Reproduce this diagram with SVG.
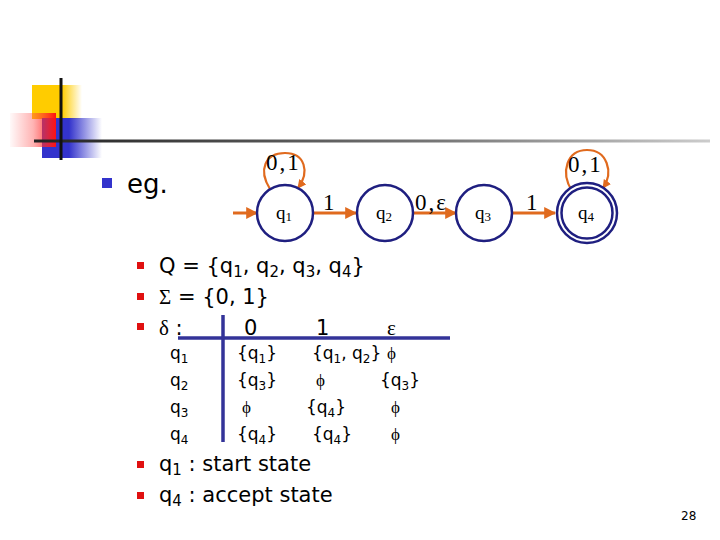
<svg xmlns="http://www.w3.org/2000/svg" width="720" height="540" viewBox="0 0 720 540">
<defs>
<linearGradient id="gy" x1="0" y1="0" x2="1" y2="0"><stop offset="0" stop-color="#FFCC00"/><stop offset="0.6" stop-color="#FFCC00"/><stop offset="1" stop-color="#FFCC00" stop-opacity="0"/></linearGradient>
<linearGradient id="gb" x1="0" y1="0" x2="1" y2="0"><stop offset="0" stop-color="#3333CC"/><stop offset="0.45" stop-color="#3333CC"/><stop offset="1" stop-color="#3333CC" stop-opacity="0"/></linearGradient>
<linearGradient id="gr" x1="0" y1="0" x2="1" y2="0"><stop offset="0" stop-color="#FF4444" stop-opacity="0.03"/><stop offset="0.5" stop-color="#FF4444" stop-opacity="0.4"/><stop offset="1" stop-color="#FF1111"/></linearGradient>
<linearGradient id="gl" x1="0" y1="0" x2="1" y2="0"><stop offset="0" stop-color="#222"/><stop offset="0.6" stop-color="#777"/><stop offset="1" stop-color="#ccc"/></linearGradient>
<marker id="ah" viewBox="0 0 10 10" refX="9" refY="5" markerWidth="4" markerHeight="4" orient="auto"><path d="M0,0 L10,5 L0,10 z" fill="#E06A1E"/></marker>
<style>
.st{fill:#fff;stroke:#1F1F80;stroke-width:2.5}
.ed{fill:none;stroke:#E06A1E;stroke-width:3;marker-end:url(#ah)}
.lp{fill:none;stroke:#E06A1E;stroke-width:2.2;marker-end:url(#ah)}
.sl{font-family:"Liberation Serif",serif;font-size:19px;fill:#000}
.el{font-family:"Liberation Serif",serif;font-size:23px;fill:#000;letter-spacing:2px}
.tx{font-family:"DejaVu Sans",sans-serif;font-size:21px;fill:#000}
.tb{font-family:"DejaVu Sans",sans-serif;font-size:17px;fill:#000}
.sy{font-family:"Liberation Serif",serif}
.rb{fill:#E01010}
</style>
</defs>
<rect width="720" height="540" fill="#fff"/>
<g id="decor">
<rect x="32" y="85" width="50" height="34" fill="url(#gy)"/>
<rect x="42" y="118" width="60" height="40" fill="url(#gb)"/>
<rect x="10" y="113" width="46" height="34" fill="url(#gr)"/>
<rect x="34" y="139.5" width="676" height="3" fill="url(#gl)"/>
<line x1="61" y1="78" x2="61" y2="160" stroke="#111" stroke-width="3"/>
</g>
<g id="eg"><rect x="102" y="178" width="10" height="10" fill="#3333CC"/><text x="127" y="193" font-family="DejaVu Sans,sans-serif" font-size="26px">eg.</text></g>
<g id="connectors">
<line class="ed" x1="233" y1="213" x2="257" y2="213"/>
<line class="ed" x1="313" y1="213" x2="356" y2="213"/>
<line class="ed" x1="413" y1="213" x2="456" y2="213"/>
<line class="ed" x1="512" y1="213" x2="555" y2="213"/>
<path class="lp" d="M270,189 C258,170 265,153 285,153 C305,153 310,172 298,188"/>
<path class="lp" d="M572,191 C560,172 567,150 587,150 C607,150 614,172 603,188"/>
<text class="el" x="323" y="210">1</text>
<text class="el" x="415" y="210">0,<tspan class="sy">ε</tspan></text>
<text class="el" x="526" y="210">1</text>
<text class="el" x="266" y="170">0,1</text>
<text class="el" x="568" y="172">0,1</text>
</g>
<g id="q1"><circle class="st" cx="285" cy="213" r="28"/><text class="sl" x="276" y="219">q<tspan font-size="13px" dy="2">1</tspan></text></g>
<g id="q2"><circle class="st" cx="385" cy="213" r="28"/><text class="sl" x="376" y="219">q<tspan font-size="13px" dy="2">2</tspan></text></g>
<g id="q3"><circle class="st" cx="484" cy="213" r="28"/><text class="sl" x="475" y="219">q<tspan font-size="13px" dy="2">3</tspan></text></g>
<g id="q4"><circle class="st" cx="587" cy="213" r="30"/><circle class="st" cx="587" cy="213" r="25.5" fill="none"/><text class="sl" x="578" y="219">q<tspan font-size="13px" dy="2">4</tspan></text></g>
<g id="defs-text">
<rect class="rb" x="137" y="262" width="7" height="7"/>
<text class="tx" x="159" y="273">Q = {q<tspan font-size="15px" dy="4">1</tspan><tspan dy="-4">, q</tspan><tspan font-size="15px" dy="4">2</tspan><tspan dy="-4">, q</tspan><tspan font-size="15px" dy="4">3</tspan><tspan dy="-4">, q</tspan><tspan font-size="15px" dy="4">4</tspan><tspan dy="-4">}</tspan></text>
<rect class="rb" x="137" y="293" width="7" height="7"/>
<text class="tx" x="159" y="304"><tspan class="sy">Σ</tspan> = {0, 1}</text>
<rect class="rb" x="137" y="323" width="7" height="7"/>
<text class="tx" x="159" y="335"><tspan class="sy">δ</tspan> :</text>
<text class="tx" x="244" y="335">0</text>
<text class="tx" x="316" y="335">1</text>
<text class="tx sy" x="387" y="335">ε</text>
</g>
<g id="table">
<line x1="178" y1="338" x2="450" y2="338" stroke="#333399" stroke-width="3.5"/>
<line x1="223" y1="315" x2="223" y2="442" stroke="#333399" stroke-width="3.5"/>
<g class="tb">
<text x="170" y="359">q<tspan font-size="12px" dy="4">1</tspan></text>
<text x="170" y="386">q<tspan font-size="12px" dy="4">2</tspan></text>
<text x="170" y="413">q<tspan font-size="12px" dy="4">3</tspan></text>
<text x="170" y="440">q<tspan font-size="12px" dy="4">4</tspan></text>
<text x="237" y="359">{q<tspan font-size="12px" dy="4">1</tspan><tspan dy="-4">}</tspan></text>
<text x="312" y="359">{q<tspan font-size="12px" dy="4">1</tspan><tspan dy="-4">, q</tspan><tspan font-size="12px" dy="4">2</tspan><tspan dy="-4">}</tspan></text>
<text x="387" y="359" class="sy">ϕ</text>
<text x="237" y="386">{q<tspan font-size="12px" dy="4">3</tspan><tspan dy="-4">}</tspan></text>
<text x="316" y="386" class="sy">ϕ</text>
<text x="380" y="386">{q<tspan font-size="12px" dy="4">3</tspan><tspan dy="-4">}</tspan></text>
<text x="242" y="413" class="sy">ϕ</text>
<text x="306" y="413">{q<tspan font-size="12px" dy="4">4</tspan><tspan dy="-4">}</tspan></text>
<text x="391" y="413" class="sy">ϕ</text>
<text x="237" y="440">{q<tspan font-size="12px" dy="4">4</tspan><tspan dy="-4">}</tspan></text>
<text x="312" y="440">{q<tspan font-size="12px" dy="4">4</tspan><tspan dy="-4">}</tspan></text>
<text x="391" y="440" class="sy">ϕ</text>
</g>
</g>
<g id="notes">
<rect class="rb" x="137" y="461" width="7" height="7"/>
<text class="tx" x="159" y="471">q<tspan font-size="15px" dy="4">1</tspan><tspan dy="-4"> : start state</tspan></text>
<rect class="rb" x="137" y="492" width="7" height="7"/>
<text class="tx" x="159" y="502">q<tspan font-size="15px" dy="4">4</tspan><tspan dy="-4"> : accept state</tspan></text>
</g>
<text x="681" y="520" font-family="DejaVu Sans,sans-serif" font-size="12px">28</text>
</svg>
